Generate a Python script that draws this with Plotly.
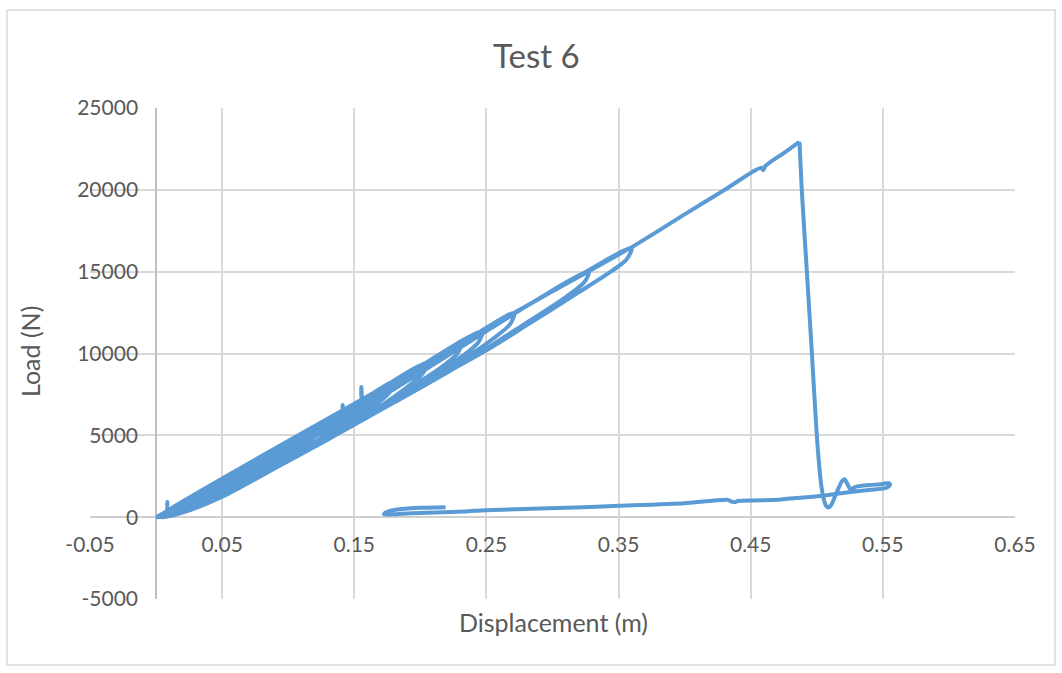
import plotly.graph_objects as go

# ---------------- data ----------------
# small cycles near the origin
disp_small = [0, 0.004, 0.008, 0.0085, 0.0089, 0.012, 0.009, 0.005, 0.001,
              0.01, 0.03, 0.028, 0.02, 0.01, 0.002,
              0.01, 0.03, 0.05, 0.048, 0.04, 0.025, 0.01, 0.002,
              0.01, 0.04, 0.07, 0.067, 0.055, 0.04, 0.02, 0.004,
              0.01, 0.05, 0.09, 0.087, 0.075, 0.05, 0.025, 0.004,
              0.01, 0.06, 0.11, 0.107, 0.095, 0.07, 0.04, 0.015, 0.003,
              0.01, 0.07, 0.13, 0.127, 0.115, 0.09, 0.05, 0.02, 0.003]
load_small = [0, 180, 370, 920, 410, 550, 300, 90, 0,
              460, 1380, 1100, 600, 180, 0,
              380, 1250, 2300, 1950, 1400, 650, 140, 0,
              350, 1650, 3220, 2750, 2050, 1300, 420, 20,
              300, 1900, 4140, 3600, 2900, 1550, 520, 20,
              330, 2550, 5060, 4500, 3750, 2350, 1000, 220, 0,
              300, 2750, 5980, 5400, 4600, 3200, 1350, 320, 0]

# intermediate cycles
disp_mid = [0.01, 0.08, 0.141, 0.1412, 0.1415, 0.155, 0.1553, 0.1556, 0.157, 0.154, 0.14, 0.1, 0.05, 0.02, 0.003,
            0.01, 0.09, 0.18, 0.177, 0.165, 0.12, 0.07, 0.03, 0.003,
            0.01, 0.1, 0.205, 0.202, 0.19, 0.15, 0.1, 0.05, 0.02, 0.003,
            0.01, 0.12, 0.231, 0.228, 0.215, 0.18, 0.13, 0.08, 0.04, 0.01, 0.003,
            0.01, 0.12, 0.247, 0.244, 0.232, 0.2, 0.15, 0.1, 0.05, 0.02, 0.003,
            0.01, 0.14, 0.271, 0.268, 0.255, 0.22, 0.17, 0.12, 0.07, 0.03, 0.003]
load_mid = [300, 3450, 6490, 6850, 6510, 7130, 7950, 7160, 7220, 6650, 5700, 3550, 1300, 300, 0,
            320, 3550, 8280, 7650, 6800, 4600, 2250, 600, 0,
            300, 4250, 9430, 8800, 7950, 5750, 3450, 1250, 300, 0,
            350, 4900, 10630, 10000, 9100, 7300, 4850, 2600, 950, 100, 0,
            300, 5150, 11360, 10700, 9850, 8150, 5700, 3450, 1250, 280, 0,
            330, 5800, 12470, 11800, 10900, 9000, 6600, 4300, 2150, 600, 0]

# large cycles
disp_large = [0.01, 0.15, 0.3275, 0.324, 0.31, 0.275, 0.23, 0.18, 0.13, 0.08, 0.04, 0.01, 0.003,
              0.01, 0.3, 0.36, 0.356, 0.345, 0.32, 0.28, 0.25, 0.2, 0.15, 0.1, 0.05, 0.02, 0.003]
load_large = [300, 6350, 15000, 14350, 13450, 11600, 9300, 7000, 4750, 2550, 950, 100, 0,
              400, 13800, 16450, 15750, 15050, 13750, 11700, 10200, 7950, 5650, 3450, 1250, 280, 0]

# final loading up to failure
disp_final = [0.01, 0.2, 0.3, 0.36, 0.40, 0.431, 0.458, 0.4595, 0.461, 0.475, 0.4869]
load_final = [460, 9200, 13800, 16500, 18500, 20040, 21350, 21200, 21450, 22250, 22930]

# failure drop, oscillation and return branch
disp_post = [0.4886, 0.4925, 0.4963, 0.5, 0.503, 0.505, 0.507, 0.509, 0.511, 0.515, 0.519, 0.521,
             0.523, 0.5254, 0.528, 0.5305, 0.54, 0.55, 0.5545, 0.5555, 0.553, 0.545, 0.534, 0.52,
             0.509, 0.49, 0.479, 0.4713, 0.44, 0.4384, 0.436, 0.4322, 0.40, 0.35, 0.3175, 0.2494,
             0.234, 0.2, 0.1863, 0.176, 0.1725, 0.174, 0.1813, 0.199, 0.2191]
load_post = [20040, 15000, 10000, 5000, 2200, 1200, 700, 590, 750, 1500, 2200, 2320,
             2050, 1710, 1800, 1880, 1960, 2030, 2080, 1980, 1800, 1700, 1610, 1480,
             1360, 1200, 1140, 1060, 990, 920, 940, 1060, 850, 690, 590, 430,
             350, 260, 210, 170, 180, 300, 450, 570, 610]

x_tickvals = [-0.05, 0.05, 0.15, 0.25, 0.35, 0.45, 0.55, 0.65]
x_ticktext = ["-0.05", "0.05", "0.15", "0.25", "0.35", "0.45", "0.55", "0.65"]
y_tickvals = [-5000, 0, 5000, 10000, 15000, 20000, 25000]
y_ticktext = ["-5000", "0", "5000", "10000", "15000", "20000", "25000"]

title_text = "Test 6"
x_title = "Displacement (m)"
y_title = "Load (N)"

# ---------------- figure ----------------
disp_cyc = disp_small + disp_mid + disp_large + disp_final
load_cyc = load_small + load_mid + load_large + load_final
disp_fail = disp_final[-1:] + disp_post
load_fail = load_final[-1:] + load_post

W, H = 1062, 673
L_M, R_M, T_M, B_M = 90, 47, 108, 74
pw, ph = W - L_M - R_M, H - T_M - B_M

xr = [-0.05, 0.65]
yr = [-5000, 25000]

def px_x(p):
    return (p - L_M) / pw

def px_y(p):
    return (H - B_M - p) / ph

font_family = "Lato, 'Open Sans', sans-serif"
grey = "#595959"
grid = "#D9D9D9"
blue = "#5B9BD5"

fig = go.Figure()
fig.add_trace(go.Scatter(x=disp_cyc, y=load_cyc, mode="lines",
                         line=dict(color=blue, width=4, shape="spline", smoothing=0.8),
                         hoverinfo="skip", showlegend=False))
fig.add_trace(go.Scatter(x=disp_fail, y=load_fail, mode="lines",
                         line=dict(color=blue, width=4, shape="spline", smoothing=0.6),
                         hoverinfo="skip", showlegend=False))

fig.update_layout(
    width=W, height=H,
    margin=dict(l=L_M, r=R_M, t=T_M, b=B_M),
    paper_bgcolor="white", plot_bgcolor="white",
    font=dict(family=font_family, color=grey, size=21),
    xaxis=dict(range=xr, tickvals=x_tickvals, ticktext=x_ticktext,
               showgrid=True, gridcolor=grid, gridwidth=1.5,
               zeroline=True, zerolinecolor="#BFBFBF", zerolinewidth=1.5,
               showline=False, ticks="", anchor="free",
               position=(0 - yr[0]) / (yr[1] - yr[0]),
               ticklabelstandoff=13,
               tickfont=dict(size=21, color=grey, family=font_family)),
    yaxis=dict(range=yr, tickvals=y_tickvals, ticktext=y_ticktext,
               showgrid=True, gridcolor=grid, gridwidth=1.5,
               zeroline=True, zerolinecolor="#CFCFCF", zerolinewidth=1.5,
               showline=False, ticks="", anchor="free",
               position=(0 - xr[0]) / (xr[1] - xr[0]),
               ticklabelstandoff=18,
               tickfont=dict(size=21, color=grey, family=font_family)),
    shapes=[
        dict(type="rect", xref="paper", yref="paper",
             x0=px_x(7), x1=px_x(1055), y0=px_y(665), y1=px_y(10),
             line=dict(color="#D9D9D9", width=1.5), layer="below"),
    ],
    annotations=[
        dict(text=title_text, x=px_x(536), y=px_y(55), xref="paper", yref="paper",
             showarrow=False, xanchor="center", yanchor="middle",
             font=dict(size=33, color=grey, family=font_family)),
        dict(text=x_title, x=px_x(553), y=px_y(622), xref="paper", yref="paper",
             showarrow=False, xanchor="center", yanchor="middle",
             font=dict(size=25, color=grey, family=font_family)),
        dict(text=y_title, x=px_x(30), y=px_y(352), xref="paper", yref="paper",
             showarrow=False, xanchor="center", yanchor="middle", textangle=-90,
             font=dict(size=25, color=grey, family=font_family)),
    ],
)

fig.write_html("out.html")
